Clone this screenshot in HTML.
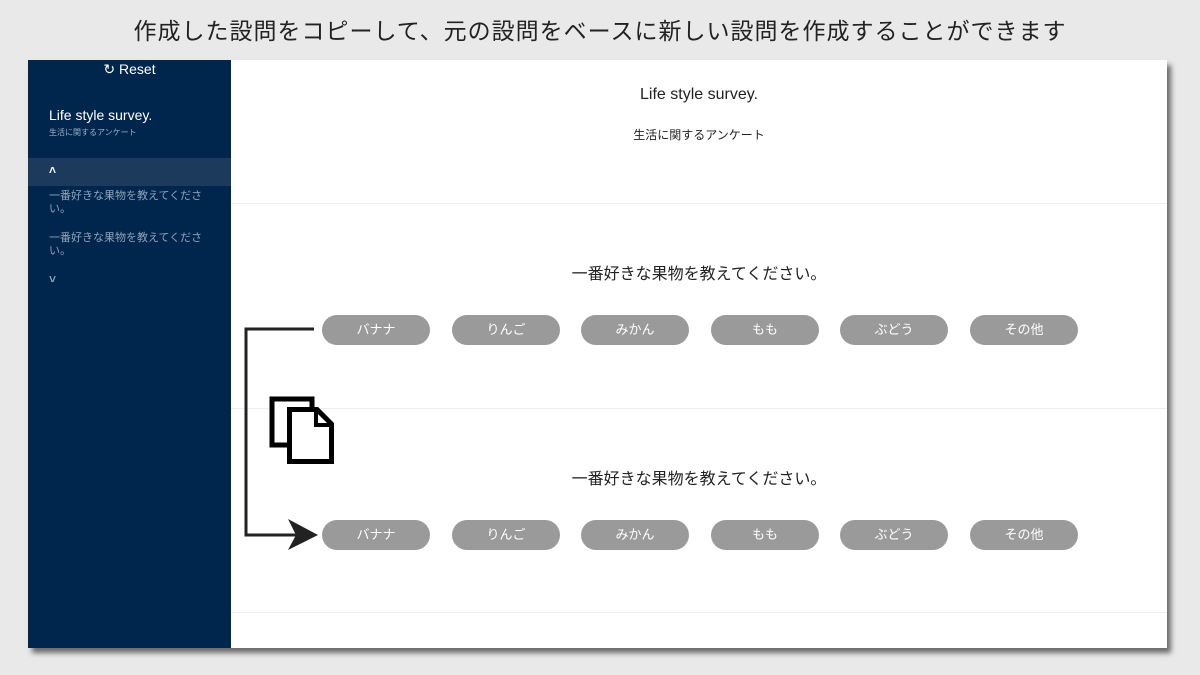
<!DOCTYPE html>
<html><head><meta charset="utf-8"><style>
body{margin:0;width:1200px;height:675px;background:#e9e9e9;position:relative;overflow:hidden;font-family:"Liberation Sans","Noto Sans CJK JP",sans-serif}
.t{position:absolute;left:0;width:1200px;top:12px;text-align:center;font-size:23px;color:#222;letter-spacing:1px}
.panel{position:absolute;left:28px;top:60px;width:1139px;height:588px;background:#fff;box-shadow:4px 5px 5px rgba(0,0,0,.55)}
.side{position:absolute;left:0;top:0;width:203px;height:588px;background:#00264d}
.abs{position:absolute}
.pill{position:absolute;width:108px;height:30px;border-radius:15px;background:#9a9a9a;color:#fff;font-size:13px;text-align:center;line-height:30px}
.sep{position:absolute;left:203px;width:936px;height:1px;background:#eee}
.q{position:absolute;left:203px;width:936px;text-align:center;font-size:16px;color:#222}
</style></head><body>
<div class="t">作成した設問をコピーして、元の設問をベースに新しい設問を作成することができます</div>
<div class="panel">
<div class="side">
<div class="abs" style="left:0;width:203px;top:1px;text-align:center;color:#fff;font-size:14px">&#x21bb; Reset</div>
<div class="abs" style="left:21px;top:47px;color:#fff;font-size:14px">Life style survey.</div>
<div class="abs" style="left:21px;top:67px;color:#9fb0c4;font-size:8px">生活に関するアンケート</div>
<div class="abs" style="left:0;top:98px;width:203px;height:28px;background:#1c3a5c"></div>
<div class="abs" style="left:21px;top:103px;color:#fff;font-size:12px;font-weight:bold">&#x2c4;</div>
<div class="abs" style="left:21px;top:130px;width:158px;color:#8fa3b9;font-size:11px;line-height:13px">一番好きな果物を教えてください。</div>
<div class="abs" style="left:21px;top:172px;width:158px;color:#8fa3b9;font-size:11px;line-height:13px">一番好きな果物を教えてください。</div>
<div class="abs" style="left:21px;top:212px;color:#8fa3b9;font-size:12px;font-weight:bold">&#x2c5;</div>
</div>
<div class="q" style="top:26px;font-size:16px">Life style survey.</div>
<div class="q" style="top:66px;font-size:12px">生活に関するアンケート</div>
<div class="sep" style="top:143px"></div>
<div class="q" style="top:200px">一番好きな果物を教えてください。</div>
<div class="sep" style="top:348px"></div>
<div class="q" style="top:405px">一番好きな果物を教えてください。</div>
<div class="sep" style="top:552px"></div>
</div>
<div class="pill" style="left:322px;top:315px">バナナ</div><div class="pill" style="left:452px;top:315px">りんご</div><div class="pill" style="left:581px;top:315px">みかん</div><div class="pill" style="left:711px;top:315px">もも</div><div class="pill" style="left:840px;top:315px">ぶどう</div><div class="pill" style="left:970px;top:315px">その他</div>
<div class="pill" style="left:322px;top:520px">バナナ</div><div class="pill" style="left:452px;top:520px">りんご</div><div class="pill" style="left:581px;top:520px">みかん</div><div class="pill" style="left:711px;top:520px">もも</div><div class="pill" style="left:840px;top:520px">ぶどう</div><div class="pill" style="left:970px;top:520px">その他</div>
<svg class="abs" style="left:0;top:0" width="1200" height="675">
<polyline points="314,329 246,329 246,535 300,535" fill="none" stroke="#222" stroke-width="3"/>
<polygon points="318,535 288,519 296,535 288,550" fill="#222"/>
<rect x="272" y="399" width="40" height="46" fill="#fff" stroke="#000" stroke-width="5"/>
<path d="M289.5,409.5 H317 L331.5,424 V461.5 H289.5 Z" fill="#fff" stroke="#000" stroke-width="5"/>
<path d="M316,410 V425 H331" fill="none" stroke="#000" stroke-width="4"/>
</svg>
</body></html>
